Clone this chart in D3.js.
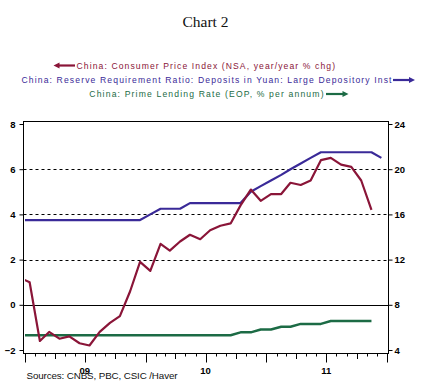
<!DOCTYPE html>
<html><head><meta charset="utf-8">
<script src="https://cdn.jsdelivr.net/npm/d3@7"></script>
<style>body{margin:0;background:#fff}svg{display:block}</style>
</head><body><script>
// ---- data ----
const months = ["2008-12",
 "2009-01","2009-02","2009-03","2009-04","2009-05","2009-06","2009-07","2009-08","2009-09","2009-10","2009-11","2009-12",
 "2010-01","2010-02","2010-03","2010-04","2010-05","2010-06","2010-07","2010-08","2010-09","2010-10","2010-11","2010-12",
 "2011-01","2011-02","2011-03","2011-04","2011-05","2011-06","2011-07","2011-08","2011-09","2011-10","2011-11","2011-12"];
// CPI (left axis), Dec 2008 - Nov 2011
const cpi = [1.2,
 1.0,-1.6,-1.2,-1.5,-1.4,-1.7,-1.8,-1.2,-0.8,-0.5,0.6,1.9,
 1.5,2.7,2.4,2.8,3.1,2.9,3.3,3.5,3.6,4.4,5.1,4.6,
 4.9,4.9,5.4,5.3,5.5,6.4,6.5,6.2,6.1,5.5,4.2];
// Reserve requirement ratio (right axis), Dec 2008 - Dec 2011
const rrr = [15.5,
 15.5,15.5,15.5,15.5,15.5,15.5,15.5,15.5,15.5,15.5,15.5,15.5,
 16.0,16.5,16.5,16.5,17.0,17.0,17.0,17.0,17.0,17.0,18.0,18.5,
 19.0,19.5,20.0,20.5,21.0,21.5,21.5,21.5,21.5,21.5,21.5,21.0];
// Prime lending rate (right axis), Dec 2008 - Nov 2011
const prime = [5.31,
 5.31,5.31,5.31,5.31,5.31,5.31,5.31,5.31,5.31,5.31,5.31,5.31,
 5.31,5.31,5.31,5.31,5.31,5.31,5.31,5.31,5.31,5.56,5.56,5.81,
 5.81,6.06,6.06,6.31,6.31,6.31,6.56,6.56,6.56,6.56,6.56];
const leftTicks = [-2,0,2,4,6,8];
const rightTicks = [4,8,12,16,20,24];
const yearLabels = [{year:2009,label:"09"},{year:2010,label:"10"},{year:2011,label:"11"}];
const legendLabels = [
 "China: Consumer Price Index (NSA, year/year % chg)",
 "China: Reserve Requirement Ratio: Deposits in Yuan: Large Depository Inst",
 "China: Prime Lending Rate (EOP, % per annum)"];
const titleText = "Chart 2";
const sourceText = "Sources:  CNBS, PBC, CSIC /Haver";

// ---- colours ----
const cRed = "#8a1538", cBlue = "#3a2a98", cGreen = "#1c6b45";

const W = 422, H = 392;
const svg = d3.select("body").append("svg").attr("width", W).attr("height", H);

const parse = d3.timeParse("%Y-%m");
const dates = months.map(m => { const d = parse(m); d.setDate(15); return d; });

const x = d3.scaleTime().domain([new Date(2009,0,1), new Date(2012,0,1)]).range([25, 387]);
const yL = d3.scaleLinear().domain([-2, 8]).range([350, 124]);
const yR = d3.scaleLinear().domain([4, 24]).range([350, 124]);

const fL = 23.5, fR = 388.5, fT = 121.5, fB = 353.5;

// title
svg.append("text").attr("x", 205.5).attr("y", 27).attr("text-anchor", "middle")
  .attr("font-family", "Liberation Serif, Times New Roman, serif").attr("font-size", 15.5)
  .attr("fill", "#111").text(titleText);

// legend
const lg = [
  {t: legendLabels[0], c: cRed, x0: 76.5, x1: 335, y: 68.5, a0: 75, a1: 53.5},
  {t: legendLabels[1], c: cBlue, x0: 21.5, x1: 391.5, y: 83, a0: 393, a1: 415},
  {t: legendLabels[2], c: cGreen, x0: 89.3, x1: 323.5, y: 97, a0: 326, a1: 348.5}
];
lg.forEach(l => {
  svg.append("text").attr("x", l.x0).attr("y", l.y)
    .attr("font-family", "Liberation Sans, Arial, sans-serif").attr("font-size", 8.6)
    .attr("fill", l.c).attr("textLength", l.x1 - l.x0).attr("lengthAdjust", "spacing").text(l.t);
  const ay = l.y - 3;
  const dir = Math.sign(l.a1 - l.a0);
  svg.append("line").attr("x1", l.a0).attr("x2", l.a1 - dir * 4).attr("y1", ay).attr("y2", ay)
    .attr("stroke", l.c).attr("stroke-width", 2.2);
  svg.append("path").attr("d", `M${l.a1},${ay} L${l.a1 - dir * 6},${ay - 3} L${l.a1 - dir * 6},${ay + 3} Z`).attr("fill", l.c);
});

// gridlines
const gx = svg.append("g");
[2, 4, 6].forEach(v => {
  gx.append("line").attr("x1", fL).attr("x2", fR).attr("y1", Math.round(yL(v)) + 0.5).attr("y2", Math.round(yL(v)) + 0.5)
    .attr("stroke", "#000").attr("stroke-width", 1).attr("stroke-dasharray", "3,3");
});
gx.append("line").attr("x1", fL).attr("x2", fR).attr("y1", Math.round(yL(0)) + 0.5).attr("y2", Math.round(yL(0)) + 0.5)
  .attr("stroke", "#000").attr("stroke-width", 1);

// clip
svg.append("clipPath").attr("id", "clip").append("rect")
  .attr("x", x.range()[0]).attr("y", fT).attr("width", fR - x.range()[0]).attr("height", fB - fT);

const plot = svg.append("g").attr("clip-path", "url(#clip)");
const lineL = d3.line().x((d, i) => x(dates[i])).y(d => yL(d));
const lineR = d3.line().x((d, i) => x(dates[i])).y(d => yR(d));

plot.append("path").datum(prime).attr("d", lineR).attr("fill", "none").attr("stroke", cGreen)
  .attr("stroke-width", 2.5).attr("stroke-linejoin", "round");
plot.append("path").datum(rrr).attr("d", lineR).attr("fill", "none").attr("stroke", cBlue)
  .attr("stroke-width", 2.2).attr("stroke-linejoin", "round");
plot.append("path").datum(cpi).attr("d", lineL).attr("fill", "none").attr("stroke", cRed)
  .attr("stroke-width", 2.2).attr("stroke-linejoin", "round");

// frame
svg.append("rect").attr("x", fL).attr("y", fT).attr("width", fR - fL).attr("height", fB - fT)
  .attr("fill", "none").attr("stroke", "#000").attr("stroke-width", 1);

// left axis
const axL = svg.append("g").attr("transform", `translate(${fL},0)`)
  .call(d3.axisLeft(yL).tickValues(leftTicks).tickSize(4).tickPadding(4).tickFormat(d3.format("d")));
axL.select(".domain").remove();
axL.selectAll("text").attr("font-family", "Liberation Sans, Arial, sans-serif").attr("font-weight", "bold").attr("font-size", 9.5).attr("fill", "#000");

// right axis
const axR = svg.append("g").attr("transform", `translate(${fR},0)`)
  .call(d3.axisRight(yR).tickValues(rightTicks).tickSize(4).tickPadding(2).tickFormat(d3.format("d")));
axR.select(".domain").remove();
axR.selectAll("text").attr("font-family", "Liberation Sans, Arial, sans-serif").attr("font-weight", "bold").attr("font-size", 9.5).attr("fill", "#000");

// x axis month ticks
const monthTicks = d3.timeMonth.range(new Date(2009,0,1), new Date(2012,0,2));
svg.append("g").selectAll("line").data(monthTicks).join("line")
  .attr("x1", d => Math.round(x(d)) + 0.5).attr("x2", d => Math.round(x(d)) + 0.5)
  .attr("y1", fB).attr("y2", d => {
    const m = d.getMonth();
    return fB + (m === 0 || m === 6 ? 9 : (m === 3 || m === 9 ? 5.5 : 3));
  })
  .attr("stroke", "#000").attr("stroke-width", 1);

svg.append("g").selectAll("text").data(yearLabels).join("text")
  .attr("x", d => x(new Date(d.year, 6, 1))).attr("y", 374).attr("text-anchor", "middle")
  .attr("font-family", "Liberation Sans, Arial, sans-serif").attr("font-weight", "bold").attr("font-size", 9.5)
  .attr("fill", "#000").text(d => d.label);

// source
svg.append("text").attr("x", 26.5).attr("y", 378.5)
  .attr("font-family", "Liberation Sans, Arial, sans-serif").attr("font-size", 9.8)
  .attr("fill", "#111").attr("textLength", 151).attr("lengthAdjust", "spacing").text(sourceText);
</script></body></html>
